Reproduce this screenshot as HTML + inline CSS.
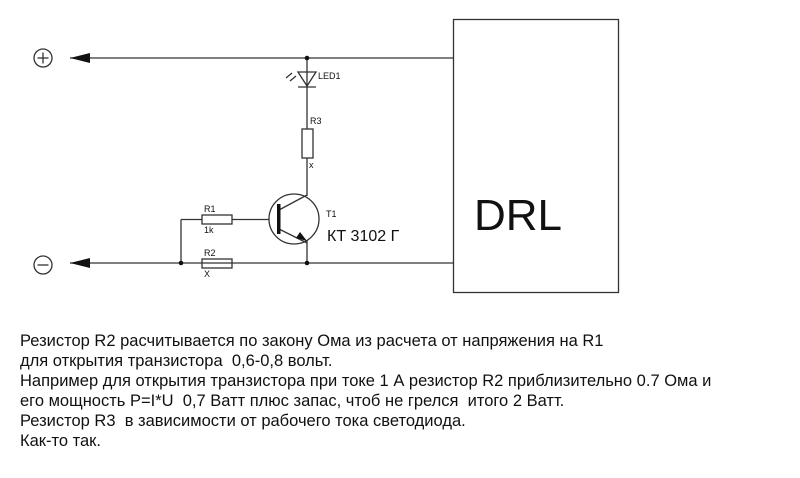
<!DOCTYPE html>
<html><head><meta charset="utf-8"><style>
html,body{margin:0;padding:0;background:#fff;}
body{width:800px;height:478px;overflow:hidden;position:relative;font-family:"Liberation Sans",Arial,sans-serif;}
.t{position:absolute;left:20px;top:331px;font-size:16.5px;line-height:20px;color:#111;white-space:pre;}
</style></head><body>
<svg width="800" height="478" style="position:absolute;left:0;top:0" font-family="Liberation Sans, Arial, sans-serif">
<g stroke="#333" stroke-width="1.3" fill="none">
<circle cx="43" cy="58" r="9"/>
<line x1="37.5" y1="58" x2="48.5" y2="58"/><line x1="43" y1="52.5" x2="43" y2="63.5"/>
<circle cx="43" cy="265" r="9"/>
<line x1="37.5" y1="265" x2="48.5" y2="265"/>
<line x1="70" y1="58" x2="453" y2="58"/>
<line x1="70" y1="263" x2="453" y2="263"/>
<rect x="453.5" y="19.5" width="165" height="273"/>
<line x1="307" y1="58" x2="307" y2="129"/>
<line x1="307" y1="158" x2="307" y2="196"/>
<line x1="307" y1="240" x2="307" y2="263"/>
<rect x="302" y="129" width="11" height="29"/>
<rect x="202" y="215" width="30" height="9"/>
<rect x="202" y="259" width="30" height="9"/>
<line x1="181" y1="219.5" x2="202" y2="219.5"/>
<line x1="181" y1="219.5" x2="181" y2="263"/>
<line x1="232" y1="219.5" x2="269" y2="219.5"/>
<circle cx="294" cy="219" r="25"/>
<line x1="279" y1="210" x2="307" y2="195"/>
<line x1="279" y1="229" x2="307" y2="243"/>
<polygon points="298,72 316,72 307,86"/>
<line x1="298" y1="87" x2="316" y2="87"/>
<line x1="286" y1="78" x2="292" y2="73"/><line x1="290" y1="81" x2="296" y2="76"/>
</g>
<rect x="277" y="204" width="3.5" height="30" fill="#111"/>
<polygon points="70,58 90,53 90,63" fill="#111"/>
<polygon points="70,263 90,258 90,268" fill="#111"/>
<polygon points="307,241 296,238 300,232" fill="#111"/>
<g fill="#111">
<circle cx="307" cy="58" r="2.3"/><circle cx="307" cy="263" r="2.3"/><circle cx="181" cy="263" r="2.3"/>
</g>
<g font-size="9" fill="#111">
<text x="318" y="79">LED1</text>
<text x="310" y="124">R3</text>
<text x="309" y="168">x</text>
<text x="204" y="212">R1</text>
<text x="204" y="233">1k</text>
<text x="204" y="256">R2</text>
<text x="204" y="277">X</text>
<text x="326" y="217">T1</text>
</g>
<text x="327" y="241" font-size="16" fill="#111">КТ 3102 Г</text>
<text x="474" y="230" font-size="44" fill="#111">DRL</text>
</svg>
<div class="t">Резистор R2 расчитывается по закону Ома из расчета от напряжения на R1
для открытия транзистора  0,6-0,8 вольт.
Например для открытия транзистора при токе 1 А резистор R2 приблизительно 0.7 Ома и
его мощность P=I*U  0,7 Ватт плюс запас, чтоб не грелся  итого 2 Ватт.
Резистор R3  в зависимости от рабочего тока светодиода.
Как-то так.</div>
</body></html>
